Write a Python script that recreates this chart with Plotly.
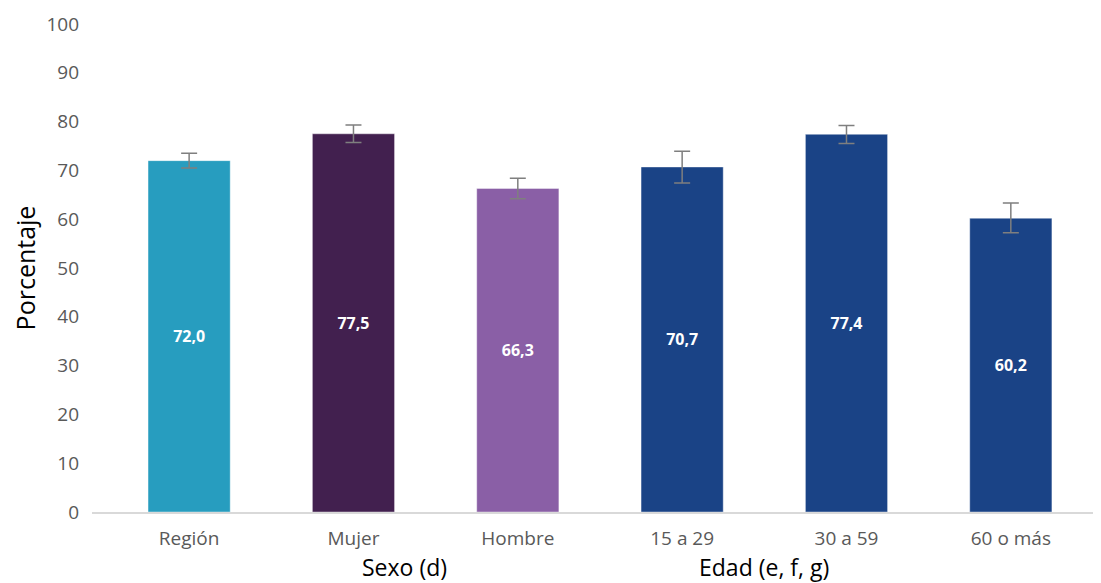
import plotly.graph_objects as go

categories = ["Región", "Mujer", "Hombre", "15 a 29", "30 a 59", "60 o más"]
values = [72.0, 77.5, 66.3, 70.7, 77.4, 60.2]
err_plus = [1.5, 1.8, 2.1, 3.2, 1.8, 3.1]
err_minus = [1.5, 1.8, 2.1, 3.3, 1.9, 3.0]
colors = ["#279DBF", "#42204F", "#8A5FA6", "#1A4386", "#1A4386", "#1A4386"]
labels = [f"{v:.1f}".replace(".", ",") for v in values]
group_labels = ["Sexo (d)", "Edad (e, f, g)"]
group_pos = [1.31, 3.5]

FONT = "Open Sans, Lato, sans-serif"

fig = go.Figure()
fig.add_trace(go.Bar(
    x=categories, y=values,
    marker=dict(color=colors, line=dict(color="rgba(255,255,255,0.4)", width=1)),
    width=0.5,
    error_y=dict(type="data", symmetric=False, array=err_plus, arrayminus=err_minus,
                 color="#7f7f7f", thickness=1.5, width=8),
    text=labels, textposition="inside", insidetextanchor="middle",
    textfont=dict(color="white", size=16, family=FONT, weight="bold"),
    showlegend=False,
))

for lab, pos in zip(group_labels, group_pos):
    fig.add_annotation(x=pos, xref="x", y=-0.113, yref="paper", text=lab,
                       showarrow=False, yanchor="middle",
                       font=dict(size=23, color="#000000", family=FONT))

fig.update_layout(
    width=1085, height=575,
    margin=dict(l=84, r=0, t=16, b=71),
    plot_bgcolor="white", paper_bgcolor="white",
    font=dict(family=FONT, color="#595959"),
)
fig.update_xaxes(range=[-0.591, 5.5], showline=True, linecolor="#d9d9d9", linewidth=1.5,
                 ticks="", ticklabelstandoff=8,
                 tickfont=dict(size=19, color="#595959", family=FONT))
fig.update_yaxes(range=[0, 100], dtick=10, showgrid=False, zeroline=False,
                 tickfont=dict(size=19, color="#595959", family=FONT), ticklabelstandoff=12,
                 title=dict(text="Porcentaje", font=dict(size=25, color="#000000", family=FONT), standoff=12))

fig.write_html("out.html")
